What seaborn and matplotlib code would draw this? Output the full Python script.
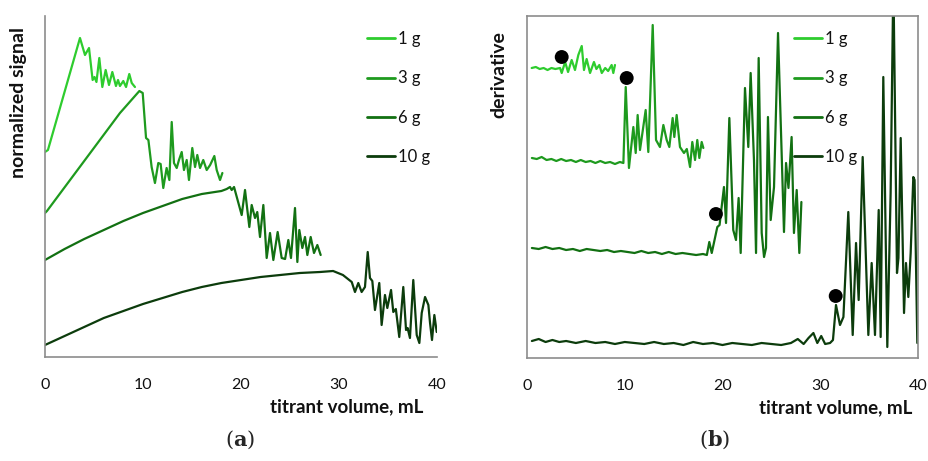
import matplotlib
matplotlib.use("Agg")
import matplotlib.pyplot as plt
import seaborn as sns
import pandas as pd

# ---------------- data ----------------
samples = ["1 g", "3 g", "6 g", "10 g"]
colors = ["#2ecc2e", "#1e9a1e", "#127012", "#0c3c0c"]

# panel (a): normalized signal (arbitrary offset units)
a1_x = [0, 0.3, 3.57, 4.08, 4.49, 4.86, 5.05, 5.25, 5.54, 5.85, 6.19, 6.53, 6.87, 7.24, 7.45, 7.65, 7.99, 8.27, 8.6, 8.85, 9.18]
a1_y = [205, 207, 319, 302, 309, 277, 280, 275, 299, 270, 287, 272, 285, 271, 277, 271, 276, 270, 283, 274, 270]

a3_x = [0, 0.2, 7.65, 9.63, 9.97, 10.31, 10.55, 10.88, 11.22, 11.56, 11.8, 12.07, 12.41, 12.69, 12.93, 13.16, 13.44,
        13.67, 13.95, 14.18, 14.46, 14.69, 15.03, 15.31, 15.54, 15.82, 16.15, 16.5, 16.85, 17.28, 17.52, 17.86, 18.1]
a3_y = [144, 146, 244, 266, 264, 219, 217, 190, 174, 194, 193, 169, 189, 177, 235, 194, 189,
        197, 205, 187, 197, 177, 209, 190, 202, 189, 197, 187, 192, 201, 187, 177, 184]

a6_x = [0, 2, 4, 6, 8, 10, 12, 14, 16, 18, 18.54, 18.88, 19.05, 19.29, 20.07, 20.41, 20.85, 21.09, 21.43, 21.66, 21.94,
        22.28, 22.62, 22.96, 23.3, 23.74, 24.15, 24.5, 24.83, 25.1, 25.51, 25.75, 25.95, 26.26, 26.53, 26.77, 27.11,
        27.45, 27.79, 28.13]
a6_y = [97, 108, 118, 127, 136, 144, 151, 158, 163, 166, 168, 170, 167, 170, 142, 167, 130, 152, 139, 145, 120,
        152, 99, 124, 97, 125, 99, 98, 117, 99, 149, 95, 127, 109, 120, 102, 120,
        104, 112, 102]

a10_x = [0, 2, 4, 6, 8, 10, 12, 14, 16, 18, 20, 22, 24, 26, 28.06, 29.4, 30.4, 31.3, 31.63, 31.97, 32.31, 32.65, 32.93,
         33.16, 33.4, 33.67, 34.11, 34.35, 34.69, 34.93, 35.31, 35.54, 35.8, 36.15, 36.56, 36.84, 37.0, 37.24, 37.58,
         37.93, 38.2, 38.44, 38.78, 39.12, 39.29, 39.49, 39.73, 39.97]
a10_y = [12, 21, 30, 39, 46, 53, 59, 65, 70, 74, 77, 80, 82, 84, 85, 86, 82, 75, 65, 74, 65, 70, 105,
         79, 76, 47, 74, 32, 62, 49, 67, 45, 48, 20, 70, 27, 29, 19, 77,
         22, 14, 44, 60, 52, 34, 17, 42, 25]

# panel (b): derivative (arbitrary offset units)
b1_x = [0.48, 0.9, 1.3, 1.7, 2.1, 2.5, 2.9, 3.38, 3.55, 3.9, 4.2, 4.57, 4.91, 5.25, 5.6, 5.83, 6.1, 6.45, 6.85, 7.1,
        7.4, 7.65, 8.0, 8.3, 8.66, 8.83, 9.0]
b1_y = [290, 291, 289, 290, 288, 290, 289, 290, 285, 296, 286, 298, 288, 303, 312, 288, 299, 285, 296, 289,
        293, 285, 290, 287, 293, 285, 293]
b1_dot = (3.55, 301)

b3_x = [0.5, 1.0, 1.5, 2.0, 2.5, 3.0, 3.5, 4.0, 4.5, 5.0, 5.5, 6.0, 6.5, 7.0, 7.5, 8.0, 8.5, 9.0, 9.5, 9.86, 10.1,
        10.43, 10.88, 11.12, 11.32, 11.56, 12.14, 12.41, 12.86, 13.2, 13.6, 13.95, 14.29, 14.56, 14.9, 15.07, 15.31,
        15.65, 16.06, 16.35, 16.68, 16.91, 17.19, 17.42, 17.63, 17.87, 18.04]
b3_y = [200, 199, 201, 198, 199, 197, 199, 197, 198, 196, 198, 196, 197, 195, 197, 195, 196, 194, 196, 195, 271,
        190, 231, 205, 243, 208, 248, 206, 333, 218, 211, 233, 218, 211, 240, 221, 243,
        211, 205, 209, 191, 216, 198, 218, 200, 216, 210]
b3_dot = (10.2, 280)

b6_x = [0.5, 1.2, 1.9, 2.6, 3.3, 4.0, 4.7, 5.4, 6.1, 6.8, 7.5, 8.2, 8.9, 9.6, 10.3, 11.0, 11.7, 12.4, 13.1, 13.8,
        14.5, 15.2, 15.9, 16.6, 17.3, 18.0, 18.4, 18.65, 18.9, 19.47, 19.7, 20.15, 20.36, 20.7, 21.1, 21.38, 21.65,
        21.86, 22.3, 22.64, 22.88, 23.22, 23.43, 23.7, 24.01, 24.25, 24.45, 24.65, 24.93, 25.27, 25.68, 26.05, 26.29,
        26.5, 26.75, 27.07, 27.31, 27.59, 27.86, 28.07]
b6_y = [110, 109, 111, 109, 110, 108, 109, 107, 109, 108, 107, 108, 106, 107, 106, 105, 107, 105, 106, 104,
        106, 104, 105, 104, 103, 104, 103, 116, 105, 131, 133, 171, 135, 240, 128, 118, 160,
        105, 270, 211, 285, 198, 105, 300, 125, 101, 110, 241, 138, 171, 325, 205, 126,
        195, 170, 221, 125, 168, 105, 156]
b6_dot = (19.33, 144)

b10_x = [0.5, 1.2, 1.9, 2.6, 3.3, 4.0, 5.0, 6.0, 7.0, 8.0, 9.0, 10.0, 11.0, 12.0, 13.0, 14.0, 15.0, 16.0, 17.0, 18.0,
         19.0, 20.0, 21.0, 22.0, 23.0, 24.0, 25.0, 26.0, 27.0, 27.7, 28.3, 28.8, 29.3, 29.7, 30.1, 30.5, 31.0, 31.3,
         31.61, 32.02, 32.37, 32.87, 33.32, 33.66, 33.93, 34.34, 34.92, 35.26, 35.6, 35.98, 36.18, 36.45, 36.86, 37.2,
         37.48, 37.85, 38.0, 38.23, 38.57, 38.77, 39.01, 39.25, 39.52, 39.65, 39.93]
b10_y = [17, 19, 16, 18, 16, 17, 15, 17, 15, 16, 14, 16, 15, 14, 16, 14, 15, 13, 16, 14,
         15, 13, 15, 14, 13, 15, 14, 13, 15, 19, 14, 20, 25, 15, 22, 14, 15, 18,
         53, 33, 41, 146, 23, 115, 58, 201, 23, 95, 23, 148, 21, 281, 11, 165,
         380, 85, 100, 220, 45, 95, 61, 105, 181, 178, 15]
b10_dot = (31.58, 62)

x_ticks = [0, 10, 20, 30, 40]
x_label = "titrant volume, mL"
ylabel_a = "normalized signal"
ylabel_b = "derivative"

# ---------------- build long tables ----------------
def long_table(xs, ys):
    frames = []
    for name, x, y in zip(samples, xs, ys):
        frames.append(pd.DataFrame({"x": x, "y": y, "sample": name}))
    return pd.concat(frames, ignore_index=True)

df_a = long_table([a1_x, a3_x, a6_x, a10_x], [a1_y, a3_y, a6_y, a10_y])
df_b = long_table([b1_x, b3_x, b6_x, b10_x], [b1_y, b3_y, b6_y, b10_y])
dots = pd.DataFrame([b1_dot, b3_dot, b6_dot, b10_dot], columns=["x", "y"])

# ---------------- style ----------------
sns.set_style("white")
plt.rcParams["font.family"] = ["Lato", "DejaVu Sans"]
plt.rcParams["mathtext.fontset"] = "dejavuserif"

fig = plt.figure(figsize=(9.29, 4.61), dpi=100)
ax_a = fig.add_axes([45 / 929, 1 - 357 / 461, 392 / 929, 341 / 461])
ax_b = fig.add_axes([527 / 929, 1 - 358 / 461, 391 / 929, 342 / 461])

palette = dict(zip(samples, colors))

for ax, df in [(ax_a, df_a), (ax_b, df_b)]:
    sns.lineplot(data=df, x="x", y="y", hue="sample", hue_order=samples, palette=palette,
                 sort=False, estimator=None, linewidth=1.6, ax=ax)

sns.scatterplot(data=dots, x="x", y="y", color="black", s=100, edgecolor="none", zorder=5, ax=ax_b, legend=False)

spine_col = "#8c8c8c"
for ax, ylim, ylab, ylab_x, ylab_pos, xlab_x, leg_x, box in [
        (ax_a, (0, 341), ylabel_a, -0.046, 0.745, 0.965, 1.013, False),
        (ax_b, (0, 342), ylabel_b, -0.049, 0.83, 0.985, 0.875, True)]:
    ax.set_xlim(0, 40)
    ax.set_ylim(*ylim)
    ax.set_xticks(x_ticks)
    ax.set_xticklabels([str(t) for t in x_ticks])
    ax.set_yticks([])
    ax.tick_params(axis="x", direction="in", length=5, width=1, color=spine_col,
                   pad=15, labelsize=11.5, labelcolor="#111111")
    for side, sp in ax.spines.items():
        sp.set_color(spine_col)
        sp.set_linewidth(1.2)
        if not box and side in ("top", "right"):
            sp.set_visible(False)
        else:
            sp.set_visible(True)
    ax.set_xlabel("")
    ax.text(xlab_x, -0.12, x_label, transform=ax.transAxes, ha="right", va="top",
            fontsize=13.5, fontweight="bold", color="#111111")
    ax.set_ylabel(ylab, fontsize=14, fontweight="bold", color="#111111")
    ax.yaxis.set_label_coords(ylab_x, ylab_pos)
    leg = ax.legend(loc="upper right", bbox_to_anchor=(leg_x, 0.99), frameon=False, fontsize=12,
                    handlelength=1.65, handletextpad=0.2, labelspacing=1.4, borderaxespad=0.3)
    for line in leg.get_lines():
        line.set_linewidth(2.0)
    for t in leg.get_texts():
        t.set_color("#111111")

fig.text(240 / 929, 1 - 440 / 461, r"($\mathbf{a}$)", ha="center", va="center", fontsize=15,
         family="DejaVu Serif")
fig.text(715 / 929, 1 - 440 / 461, r"($\mathbf{b}$)", ha="center", va="center", fontsize=15,
         family="DejaVu Serif")

fig.savefig("out.png", dpi=100)
